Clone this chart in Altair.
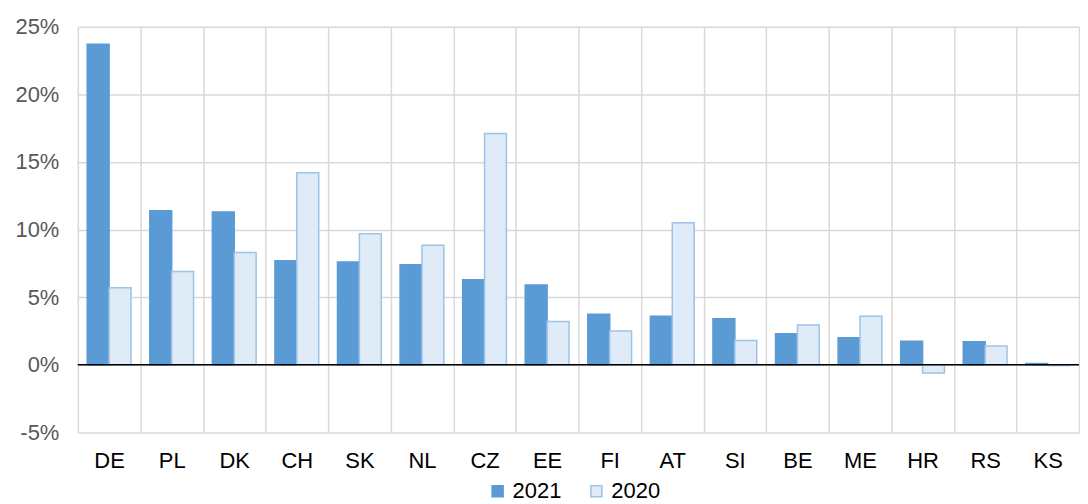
import altair as alt
import pandas as pd

countries = ["DE", "PL", "DK", "CH", "SK", "NL", "CZ", "EE", "FI", "AT", "SI", "BE", "ME", "HR", "RS", "KS"]
v2021 = [23.7, 11.4, 11.3, 7.7, 7.6, 7.4, 6.3, 5.9, 3.75, 3.6, 3.4, 2.3, 2.0, 1.75, 1.7, 0.1]
v2020 = [5.7, 6.9, 8.3, 14.2, 9.7, 8.85, 17.1, 3.2, 2.5, 10.5, 1.8, 2.95, 3.6, -0.6, 1.4, -0.05]
years = ["2021", "2020"]
y_ticks = [-5, 0, 5, 10, 15, 20, 25]

rows = []
for c, a, b in zip(countries, v2021, v2020):
    rows.append({"country": c, "year": "2021", "value": a})
    rows.append({"country": c, "year": "2020", "value": b})
df = pd.DataFrame(rows)

font = "Liberation Sans"

bars = alt.Chart(df).mark_bar(strokeWidth=1.5).encode(
    x=alt.X("country:N", sort=countries, title=None,
            scale=alt.Scale(paddingInner=0, paddingOuter=0),
            axis=alt.Axis(tickBand="extent", grid=True, gridColor="#d9d9d9", gridWidth=1.5,
                          domain=False, ticks=False, labelAngle=0, labelFontSize=22,
                          labelColor="#000000", labelFont=font, labelPadding=18)),
    xOffset=alt.XOffset("year:N", sort=years,
                        scale=alt.Scale(paddingInner=0, paddingOuter=0.43)),
    y=alt.Y("value:Q", title=None,
            scale=alt.Scale(domain=[-5, 25], nice=False),
            axis=alt.Axis(values=y_ticks, labelExpr="datum.value + '%'", grid=True,
                          gridColor="#d9d9d9", gridWidth=1.5, domain=False, ticks=False,
                          labelFontSize=22, labelColor="#595959", labelFont=font,
                          labelPadding=19)),
    fill=alt.Color("year:N", sort=years,
                   scale=alt.Scale(domain=years, range=["#5b9bd5", "#dfebf7"]),
                   legend=alt.Legend(title=None, orient="none", direction="horizontal",
                                     legendX=410, legendY=455,
                                     labelFontSize=22, labelFont=font, labelColor="#000000",
                                     symbolType="square", symbolSize=121, symbolStrokeWidth=1.5,
                                     columnPadding=24, labelOffset=4)),
    stroke=alt.Stroke("year:N", sort=years,
                      scale=alt.Scale(domain=years, range=["#5b9bd5", "#9dc3e6"]),
                      legend=None),
)

zero = alt.Chart(pd.DataFrame({"y": [0]})).mark_rule(color="#000000", strokeWidth=1.5).encode(
    y="y:Q"
)

chart = alt.layer(bars, zero).properties(
    width=1004, height=407,
    padding={"top": 7, "left": 6, "right": 0, "bottom": 0},
).configure_view(stroke=None)

chart.save("out.html", embed_options={"renderer": "svg", "actions": False})
